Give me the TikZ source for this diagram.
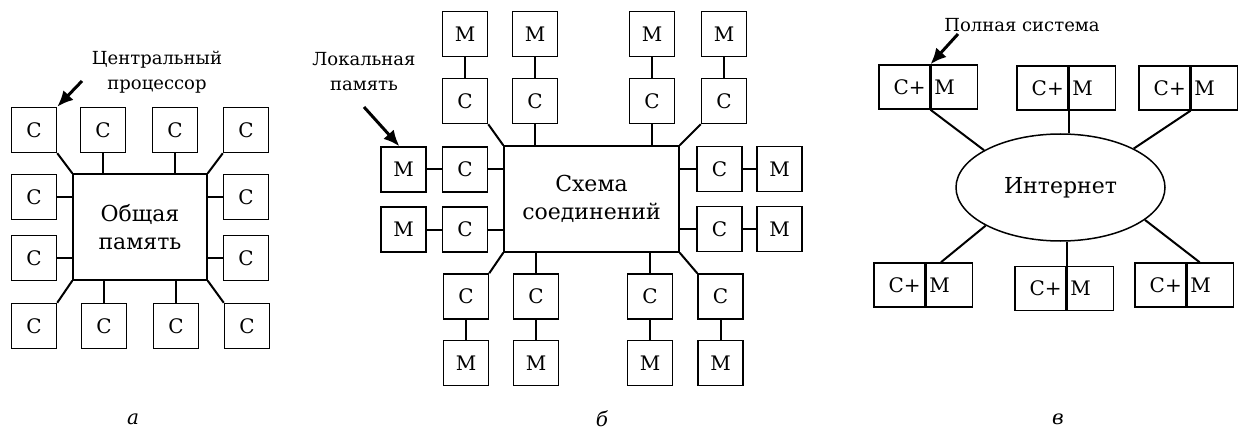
\documentclass[tikz,border=0pt]{standalone}
\usepackage{fontspec}
\setmainfont{DejaVu Serif}
\usetikzlibrary{arrows.meta,positioning,shapes.geometric}

\begin{document}
\begin{tikzpicture}[x=1pt,y=-1pt,
  box/.style={draw,line width=1.5pt,minimum width=45pt,minimum height=45pt,inner sep=0pt,font=\fontsize{20}{24}\selectfont},
  hub/.style={draw,line width=1.5pt,inner sep=0pt,align=center,font=\fontsize{22}{28}\selectfont},
  cpart/.style={draw,line width=1.5pt,minimum height=44pt,inner ysep=0pt,inner xsep=4pt,text width=43pt,align=right,font=\fontsize{20}{24}\selectfont},
  mpart/.style={draw,line width=1.5pt,minimum height=44pt,inner ysep=0pt,inner xsep=3pt,text width=40pt,align=left,font=\fontsize{20}{24}\selectfont},
  link/.style={line width=2pt},
  pointer/.style={line width=3pt,-{Latex[length=16pt,width=14pt]}},
  lbl/.style={align=center,font=\fontsize{18}{25}\selectfont},
  sub/.style={font=\fontsize{20}{24}\selectfont\itshape}]
  \useasboundingbox (0,0) rectangle (1243,433);

  % a
  \node[hub,minimum width=134pt,minimum height=106pt] (mem) at (140,227) {Общая\\память};
  \node[box] (a1) at (34,130) {С};
  \node[box] (a2) at (103,130) {С};
  \node[box] (a3) at (175,130) {С};
  \node[box] (a4) at (246,130) {С};
  \node[box] (a5) at (34,197) {С};
  \node[box] (a6) at (246,197) {С};
  \node[box] (a7) at (34,258) {С};
  \node[box] (a8) at (246,258) {С};
  \node[box] (a9) at (34,326) {С};
  \node[box] (a10) at (104,326) {С};
  \node[box] (a11) at (176,326) {С};
  \node[box] (a12) at (247,326) {С};

  \draw[link] (a1.south east) -- (mem.north west);
  \draw[link] (a2.south) -- (a2.south |- mem.north);
  \draw[link] (a3.south) -- (a3.south |- mem.north);
  \draw[link] (a4.south west) -- (mem.north east);
  \draw[link] (a5.east) -- (a5.east -| mem.west);
  \draw[link] (a7.east) -- (a7.east -| mem.west);
  \draw[link] (a6.west) -- (a6.west -| mem.east);
  \draw[link] (a8.west) -- (a8.west -| mem.east);
  \draw[link] (mem.south west) -- (a9.north east);
  \draw[link] (a10.north) -- (a10.north |- mem.south);
  \draw[link] (a11.north) -- (a11.north |- mem.south);
  \draw[link] (mem.south east) -- (a12.north west);

  \node[lbl] (cpu) at (157,72) {Центральный\\процессор};
  \coordinate (cputail) at (82,81);
  \draw[pointer] (cputail) -- (a1.north east);

  % b
  \node[hub,minimum width=175pt,minimum height=106pt] (sw) at (591.5,199) {Схема\\соединений};
  \node[box] (tm1) at (465,34) {М};
  \node[box] (tm2) at (535,34) {М};
  \node[box] (tm3) at (652,34) {М};
  \node[box] (tm4) at (724,34) {М};
  \node[box] (tc1) at (465,101) {С};
  \node[box] (tc2) at (535,101) {С};
  \node[box] (tc3) at (652,101) {С};
  \node[box] (tc4) at (724,101) {С};
  \node[box] (lm1) at (403.5,169.5) {М};
  \node[box] (lc1) at (465,169.5) {С};
  \node[box] (lm2) at (403.5,229.5) {М};
  \node[box] (lc2) at (465,229.5) {С};
  \node[box] (rc1) at (719.5,169) {С};
  \node[box] (rm1) at (779.5,169) {М};
  \node[box] (rc2) at (719.5,229) {С};
  \node[box] (rm2) at (779.5,229) {М};
  \node[box] (bc1) at (466,296.5) {С};
  \node[box] (bc2) at (536,296.5) {С};
  \node[box] (bc3) at (650,296.5) {С};
  \node[box] (bc4) at (720.5,296.5) {С};
  \node[box] (bm1) at (466,363) {М};
  \node[box] (bm2) at (536,363) {М};
  \node[box] (bm3) at (650,363) {М};
  \node[box] (bm4) at (720.5,363) {М};

  \draw[link] (tm1) -- (tc1);
  \draw[link] (tm2) -- (tc2);
  \draw[link] (tm3) -- (tc3);
  \draw[link] (tm4) -- (tc4);
  \draw[link] (tc1.south east) -- (sw.north west);
  \draw[link] (tc2.south) -- (tc2.south |- sw.north);
  \draw[link] (tc3.south) -- (tc3.south |- sw.north);
  \draw[link] (tc4.south west) -- (sw.north east);
  \draw[link] (lm1) -- (lc1);
  \draw[link] (lm2) -- (lc2);
  \draw[link] (lc1.east) -- (lc1.east -| sw.west);
  \draw[link] (lc2.east) -- (lc2.east -| sw.west);
  \draw[link] (rc1) -- (rm1);
  \draw[link] (rc2) -- (rm2);
  \draw[link] (rc1.west) -- (rc1.west -| sw.east);
  \draw[link] (rc2.west) -- (rc2.west -| sw.east);
  \draw[link] (sw.south west) -- (bc1.north east);
  \draw[link] (bc2.north) -- (bc2.north |- sw.south);
  \draw[link] (bc3.north) -- (bc3.north |- sw.south);
  \draw[link] (sw.south east) -- (bc4.north west);
  \draw[link] (bc1) -- (bm1);
  \draw[link] (bc2) -- (bm2);
  \draw[link] (bc3) -- (bm3);
  \draw[link] (bc4) -- (bm4);

  \node[lbl] (locmem) at (364,72) {Локальная\\память};
  \coordinate (memtail) at (364,107);
  \draw[pointer] (memtail) -- (lm1.100);

  % v
  \node[draw,ellipse,line width=1.5pt,minimum width=209pt,minimum height=107pt,inner sep=0pt,font=\fontsize{22}{28}\selectfont] (inet) at (1060.5,187.5) {Интернет};
  \node[cpart,anchor=west] (t1) at (878,87) {С+};
  \node[mpart,right=0pt of t1] (t1m) {М};
  \node[cpart,anchor=west] (t2) at (1016,88) {С+};
  \node[mpart,right=0pt of t2] (t2m) {М};
  \node[cpart,anchor=west] (t3) at (1138,88) {С+};
  \node[mpart,right=0pt of t3] (t3m) {М};
  \node[cpart,anchor=west] (b1) at (873,285) {С+};
  \node[mpart,right=0pt of b1] (b1m) {М};
  \node[cpart,anchor=west] (b2) at (1014,288.5) {С+};
  \node[mpart,right=0pt of b2] (b2m) {М};
  \node[cpart,anchor=west] (b3) at (1134,285) {С+};
  \node[mpart,right=0pt of b3] (b3m) {М};

  \draw[link] (t1.south east) -- (inet.154);
  \draw[link] (t2.south east) -- (t2.south east |- inet.north);
  \draw[link] (t3.south east) -- (inet.28);
  \draw[link] (b1m.110) -- (inet.207);
  \draw[link] (b2.north east) -- (b2.north east |- inet.south);
  \draw[link] (b3m.115) -- (inet.-21);

  \node[lbl] (full) at (1022,25) {Полная система};
  \coordinate (fulltail) at (958,34);
  \draw[pointer] (fulltail) -- (t1.north east);

  \node[sub] (suba) at (133,419) {а};
  \node[sub] (subb) at (602,419) {б};
  \node[sub] (subv) at (1058,419) {в};
\end{tikzpicture}
\end{document}
